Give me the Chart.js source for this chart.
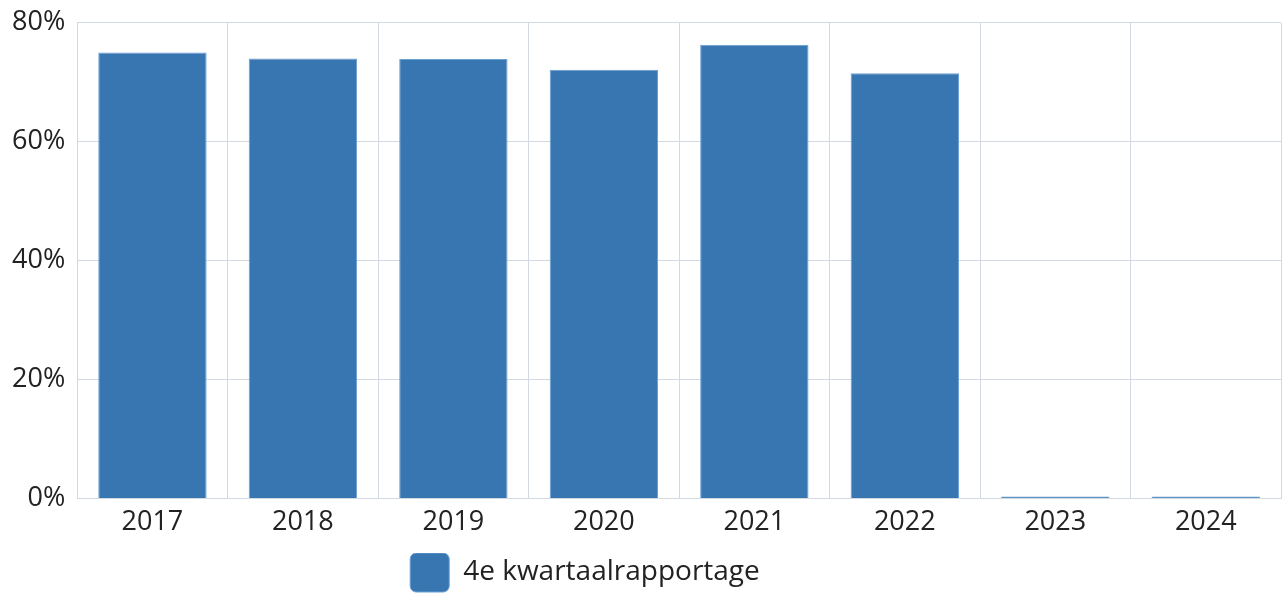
<!DOCTYPE html>
<html>
<head>
<meta charset="utf-8">
<script src="https://cdn.jsdelivr.net/npm/chart.js@4/dist/chart.umd.min.js"></script>
<style>
  html, body { margin: 0; padding: 0; background: #fff; }
  #wrap { width: 1288px; height: 594px; }
</style>
</head>
<body>
<div id="wrap"><canvas id="chart"></canvas></div>
<script>
const years = ['2017', '2018', '2019', '2020', '2021', '2022', '2023', '2024']
const q4_share = [75.0, 74.0, 73.9, 72.1, 76.3, 71.5, 0, 0]
const series_label = '4e kwartaalrapportage'
const y_ticks = [0, 20, 40, 60, 80]

const grid_color = '#d3d9e2'
const font_name = "'Open Sans', 'Noto Sans', sans-serif"

// legend sits left of centre in the original, shift it over
const legend_shift = {
    id: 'legend_shift',
    afterLayout(chart) {
        chart.legend.right -= 111
    }
}

new Chart(document.getElementById('chart'), {
    type: 'bar',
    data: {
        labels: years,
        datasets: [{
            label: series_label,
            data: q4_share,
            backgroundColor: '#3776b1',
            borderColor: '#6a9fd4',
            borderWidth: 1,
            minBarLength: 2
        }]
    },
    options: {
        responsive: true,
        maintainAspectRatio: false,
        animation: false,
        layout: { padding: { left: 0, top: 0, right: 7, bottom: -8 } },
        plugins: {
            legend: {
                position: 'bottom',
                labels: {
                    color: '#222',
                    font: { family: font_name, size: 28 },
                    boxWidth: 39,
                    boxHeight: 39,
                    useBorderRadius: true,
                    borderRadius: 6,
                    padding: 0
                }
            },
            tooltip: { enabled: false }
        },
        scales: {
            x: {
                grid: { color: grid_color, drawTicks: false, offset: true },
                border: { color: grid_color },
                ticks: {
                    color: '#222',
                    font: { family: font_name, size: 27 },
                    padding: 8
                },
                // extra room between tick labels and legend
                afterFit(axis) {
                    axis.height += 6
                }
            },
            y: {
                min: 0,
                max: 80,
                afterBuildTicks(axis) {
                    axis.ticks = y_ticks.map(v => ({ value: v }))
                },
                grid: { color: grid_color, drawTicks: false },
                border: { color: grid_color },
                ticks: {
                    color: '#222',
                    font: { family: font_name, size: 27, lineHeight: 0.8 },
                    padding: 12,
                    callback: v => v + '%'
                }
            }
        }
    },
    plugins: [legend_shift]
})
</script>
</body>
</html>
